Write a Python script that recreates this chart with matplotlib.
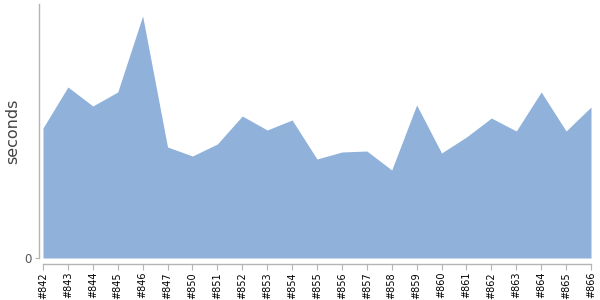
import matplotlib
matplotlib.use("Agg")
import matplotlib.pyplot as plt

builds = ["#842", "#843", "#844", "#845", "#846", "#847", "#850", "#851", "#852",
          "#853", "#854", "#855", "#856", "#857", "#858", "#859", "#860", "#861",
          "#862", "#863", "#864", "#865", "#866"]
seconds = [130, 171, 152, 166, 242, 111, 102, 114, 142, 128, 138, 99, 106, 107,
           88, 153, 105, 121, 140, 127, 166, 127, 151]

fig = plt.figure(figsize=(6, 3), dpi=100)
ax = fig.add_axes([43/600, 42/300, (591-43)/600, (258-4)/300])
x = list(range(len(builds)))
ax.fill_between(x, 0, seconds, color="#8fb1da", linewidth=0)
ax.set_xlim(0, len(builds) - 1)
ax.set_ylim(0, 254)
for s in ["top", "right"]:
    ax.spines[s].set_visible(False)
ax.spines["left"].set_position(("outward", 3))
ax.spines["bottom"].set_position(("outward", 4))
for s in ["left", "bottom"]:
    ax.spines[s].set_color("#b4b4b4")
    ax.spines[s].set_linewidth(1)
ax.set_xticks(x)
ax.set_xticklabels(builds, rotation=90, fontsize=7, color="#000000")
ax.set_yticks([0])
ax.set_yticklabels(["0"], fontsize=8.5, color="#555555")
ax.tick_params(axis="x", length=4, color="#b4b4b4", pad=2)
ax.tick_params(axis="y", length=3, color="#b4b4b4", pad=2)
fig.text(13/600, 1 - 131/300, "seconds", rotation=90, fontsize=11.5,
         color="#444444", ha="center", va="center")
fig.savefig("out.png", dpi=100)
